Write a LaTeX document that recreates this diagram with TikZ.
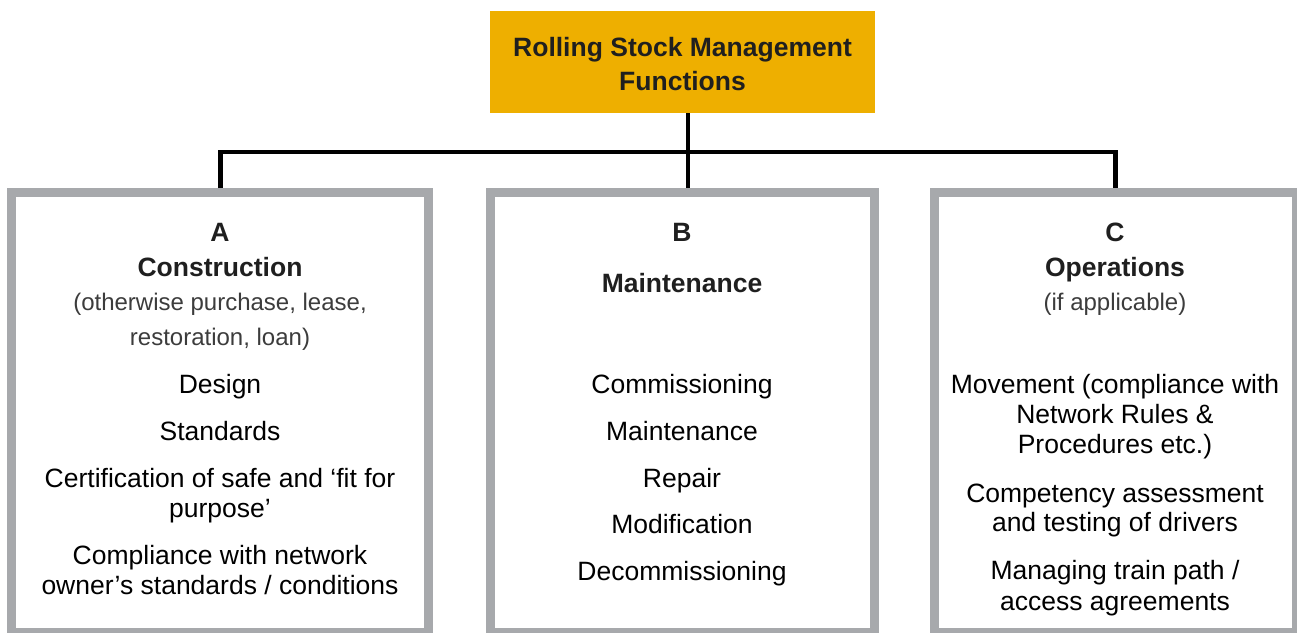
\documentclass[tikz,border=0pt]{standalone}
\usepackage{fontspec}
\setmainfont{Liberation Sans}
\definecolor{gold}{RGB}{238,175,0}
\definecolor{panelgray}{RGB}{167,169,172}
\definecolor{subtext}{RGB}{60,60,60}
\begin{document}
\begin{tikzpicture}[x=1pt,y=-1pt,
  panel/.style={draw=panelgray, line width=9pt, fill=white, inner sep=0pt},
  titlebox/.style={fill=gold, inner sep=0pt, minimum width=385pt, minimum height=102pt},
  link/.style={draw=black, line width=4.5pt},
  txt/.style={font=\fontsize{26.5}{30}\selectfont, anchor=base, inner sep=0pt},
  hd/.style={txt, font=\fontsize{26.5}{30}\selectfont\bfseries, text=black!88},
  sub/.style={txt, font=\fontsize{24}{30}\selectfont, text=subtext}]
\useasboundingbox (0,0) rectangle (1297,632);

% panels and heading box
\node[titlebox] (top) at (682.5,62) {};
\node[panel, minimum width=417pt, minimum height=440pt] (boxA) at (220.25,412.5) {};
\node[panel, minimum width=384pt, minimum height=440pt] (boxB) at (682.5,412.5) {};
\node[panel, minimum width=362pt, minimum height=440pt] (boxC) at (1115.5,412.5) {};

% connectors
\coordinate (hub) at (688,152);
\draw[link] (top.south -| hub) -- (boxB.north -| hub);
\draw[link] (boxA.north) |- (hub) -| (boxC.north);

% heading
\node[hd] (t1) at (682.5,56) {Rolling Stock Management};
\node[hd] (t2) at (682.5,90) {Functions};

% column A
\node[hd] (a1) at (220,241) {A};
\node[hd] (a2) at (220,276) {Construction};
\node[sub] (a3) at (220,310) {(otherwise purchase, lease,};
\node[sub] (a4) at (220,345) {restoration, loan)};
\node[txt] (a5) at (220,393) {Design};
\node[txt] (a6) at (220,440) {Standards};
\node[txt] (a7) at (220,487) {Certification of safe and ‘fit for};
\node[txt] (a8) at (220,517) {purpose’};
\node[txt] (a9) at (220,564) {Compliance with network};
\node[txt] (a10) at (220,594) {owner’s standards / conditions};

% column B
\node[hd] (b1) at (682,241) {B};
\node[hd] (b2) at (682,292) {Maintenance};
\node[txt] (b3) at (682,393) {Commissioning};
\node[txt] (b4) at (682,440) {Maintenance};
\node[txt] (b5) at (682,487) {Repair};
\node[txt] (b6) at (682,533) {Modification};
\node[txt] (b7) at (682,580) {Decommissioning};

% column C
\node[hd] (c1) at (1115,241) {C};
\node[hd] (c2) at (1115,276) {Operations};
\node[sub] (c3) at (1115,310) {(if applicable)};
\node[txt] (c4) at (1115,393) {Movement (compliance with};
\node[txt] (c5) at (1115,423) {Network Rules \&};
\node[txt] (c6) at (1115,453) {Procedures etc.)};
\node[txt] (c7) at (1115,502) {Competency assessment};
\node[txt] (c8) at (1115,531) {and testing of drivers};
\node[txt] (c9) at (1115,579) {Managing train path /};
\node[txt] (c10) at (1115,610) {access agreements};
\end{tikzpicture}
\end{document}
